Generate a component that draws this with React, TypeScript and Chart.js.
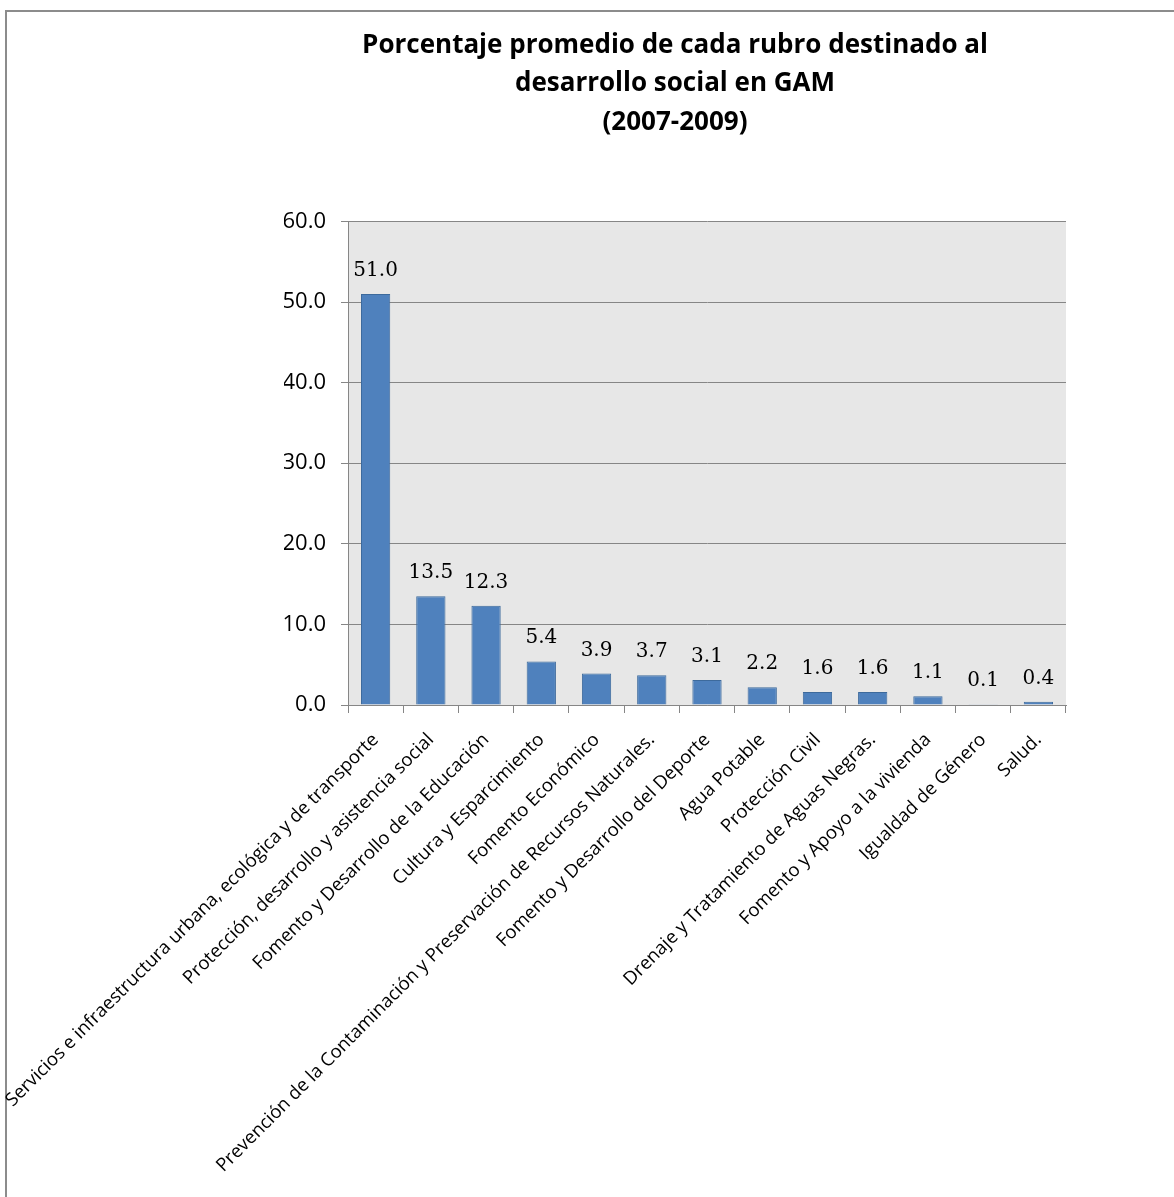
import { useEffect, useRef } from 'react';
import { Chart, registerables } from 'chart.js';

Chart.register(...registerables);

const titleLines = [
  'Porcentaje promedio de cada rubro destinado al',
  'desarrollo social en GAM',
  '(2007-2009)',
];

const categories = [
  'Servicios e infraestructura urbana, ecológica y de transporte',
  'Protección, desarrollo y asistencia social',
  'Fomento y Desarrollo de la Educación',
  'Cultura y Esparcimiento',
  'Fomento Económico',
  'Prevención de la Contaminación y Preservación de Recursos Naturales.',
  'Fomento y Desarrollo del Deporte',
  'Agua Potable',
  'Protección Civil',
  'Drenaje y Tratamiento de Aguas Negras.',
  'Fomento y Apoyo a la vivienda',
  'Igualdad de Género',
  'Salud.',
];

const values = [51.0, 13.5, 12.3, 5.4, 3.9, 3.7, 3.1, 2.2, 1.6, 1.6, 1.1, 0.1, 0.4];

const yMin = 0;
const yMax = 60;
const yStep = 10;

const FONT = '"Open Sans", Lato, sans-serif';
const GRID = '#868686';

const backgroundPlugin = {
  id: 'plotBackground',
  beforeDraw(chart: any) {
    const { ctx, chartArea } = chart;
    ctx.save();
    ctx.fillStyle = '#ffffff';
    ctx.fillRect(0, 0, chart.width, chart.height);
    ctx.fillStyle = '#e7e7e7';
    ctx.fillRect(chartArea.left, chartArea.top, chartArea.right - chartArea.left, chartArea.bottom - chartArea.top);
    ctx.strokeStyle = '#8c8c8c';
    ctx.lineWidth = 2;
    ctx.beginPath();
    ctx.moveTo(6, chart.height + 5);
    ctx.lineTo(6, 11);
    ctx.lineTo(chart.width + 5, 11);
    ctx.stroke();
    ctx.restore();
  },
};

const valueLabelPlugin = {
  id: 'valueLabels',
  afterDatasetsDraw(chart: any) {
    const { ctx } = chart;
    const meta = chart.getDatasetMeta(0);
    ctx.save();
    ctx.fillStyle = '#000000';
    ctx.font = '20px "DejaVu Serif", serif';
    ctx.textAlign = 'center';
    ctx.textBaseline = 'alphabetic';
    meta.data.forEach((el: any, i: number) => {
      ctx.fillText(values[i].toFixed(1), el.x, el.y - 18);
    });
    ctx.restore();
  },
};

export default function App() {
  const ref = useRef<HTMLCanvasElement | null>(null);

  useEffect(() => {
    document.body.style.margin = '0';
    const canvas = ref.current;
    if (!canvas) return;
    const chart = new Chart(canvas, {
      type: 'bar',
      data: {
        labels: categories,
        datasets: [
          {
            data: values,
            backgroundColor: '#4f81bd',
            borderColor: '#3d6a9c',
            borderWidth: 1,
            barPercentage: 0.53,
            categoryPercentage: 1,
          },
        ],
      },
      options: {
        animation: false,
        responsive: false,
        maintainAspectRatio: false,
        layout: { padding: { left: 284, right: 108, top: 0, bottom: 0 } },
        plugins: {
          legend: { display: false },
          tooltip: { enabled: false },
          title: {
            display: true,
            text: titleLines,
            color: '#000000',
            font: { family: FONT, size: 26, weight: 'bold', lineHeight: 1.48 },
            padding: { top: 26, bottom: 80 },
          },
        },
        scales: {
          x: {
            afterFit(scale: any) {
              scale.height = 492;
              scale.paddingLeft = 0;
              scale.paddingRight = 0;
            },
            grid: {
              display: true,
              drawOnChartArea: false,
              drawTicks: true,
              tickLength: 8,
              color: GRID,
              offset: true,
            },
            border: { display: true, color: GRID, width: 1 },
            ticks: {
              autoSkip: false,
              maxRotation: 45,
              minRotation: 45,
              color: '#000000',
              font: { family: FONT, size: 18.5 },
              padding: 16,
            },
          },
          y: {
            min: yMin,
            max: yMax,
            afterFit(scale: any) {
              scale.width = 64;
            },
            grid: {
              color: GRID,
              tickLength: 7,
              drawTicks: true,
            },
            border: { display: true, color: GRID, width: 1 },
            ticks: {
              stepSize: yStep,
              color: '#000000',
              font: { family: FONT, size: 22 },
              padding: 15,
              callback: (v: any) => Number(v).toFixed(1),
            },
          },
        },
      },
      plugins: [backgroundPlugin, valueLabelPlugin],
    });
    return () => chart.destroy();
  }, []);

  return <canvas ref={ref} width={1174} height={1197} style={{ display: 'block' }} />;
}
